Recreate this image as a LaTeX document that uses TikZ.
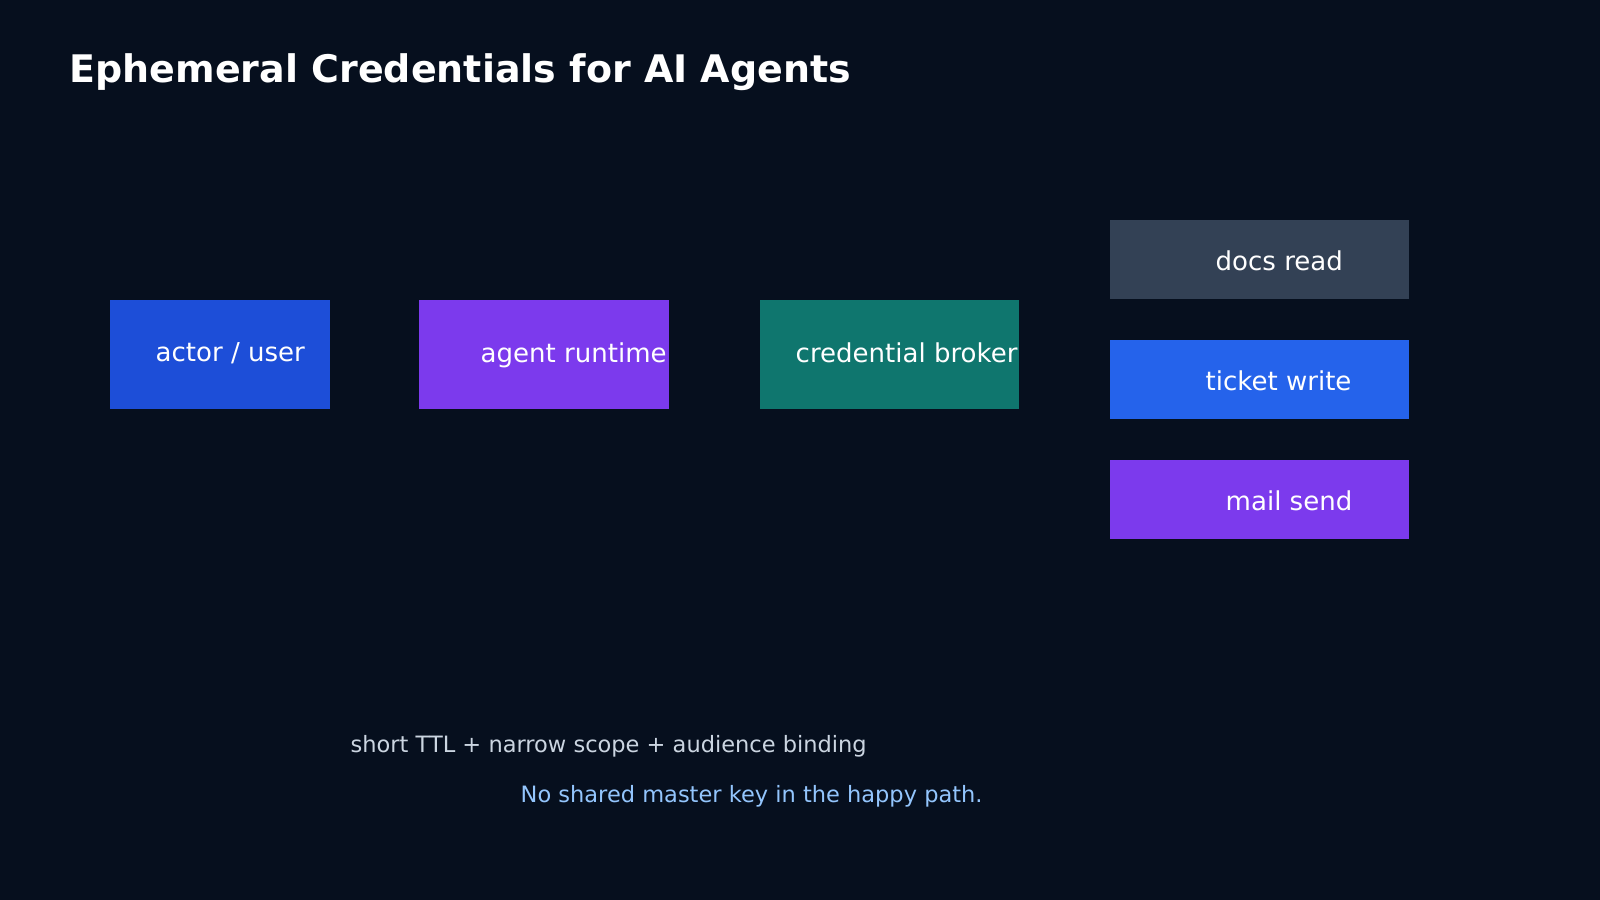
\documentclass[tikz,border=0pt]{standalone}
\usepackage{fontspec}
\setmainfont{DejaVu Sans}
\definecolor{bg}{HTML}{060F1E}
\definecolor{cactor}{HTML}{1D4ED8}
\definecolor{cagent}{HTML}{7C3AED}
\definecolor{cbroker}{HTML}{0F766E}
\definecolor{cdocs}{HTML}{334155}
\definecolor{cticket}{HTML}{2563EB}
\definecolor{cnote}{HTML}{CBD5E1}
\definecolor{cfoot}{HTML}{93C5FD}
\begin{document}
\begin{tikzpicture}[x=0.01cm,y=-0.01cm,
  box/.style={draw=none},
  lbl/.style={anchor=base west,inner sep=0,text=white,font=\fontsize{7.4pt}{9pt}\selectfont},
  note/.style={anchor=base west,inner sep=0,font=\fontsize{6.4pt}{8pt}\selectfont}]
\fill[bg] (0,0) rectangle (1600,900);
\useasboundingbox (0,0) rectangle (1600,900);
\node[anchor=base west,inner sep=0,text=white,font=\bfseries\fontsize{10.8pt}{13pt}\selectfont] (title) at (69,82) {Ephemeral Credentials for AI Agents};
\fill[cactor] (110,300) rectangle (330,409);
\fill[cagent] (419,300) rectangle (669,409);
\fill[cbroker] (760,300) rectangle (1019,409);
\fill[cdocs] (1110,220) rectangle (1409,299);
\fill[cticket] (1110,340) rectangle (1409,419);
\fill[cagent] (1110,460) rectangle (1409,539);
\node[lbl] (actor) at (155,361) {actor / user};
\node[lbl] (agent) at (480,362) {agent runtime};
\node[lbl] (broker) at (795,362) {credential broker};
\node[lbl] (docs) at (1215,270) {docs read};
\node[lbl] (ticket) at (1205,390) {ticket write};
\node[lbl] (mail) at (1225,510) {mail send};
\node[note,text=cnote] (ttl) at (350,752) {short TTL + narrow scope + audience binding};
\node[note,text=cfoot] (foot) at (520,802) {No shared master key in the happy path.};
\end{tikzpicture}
\end{document}
